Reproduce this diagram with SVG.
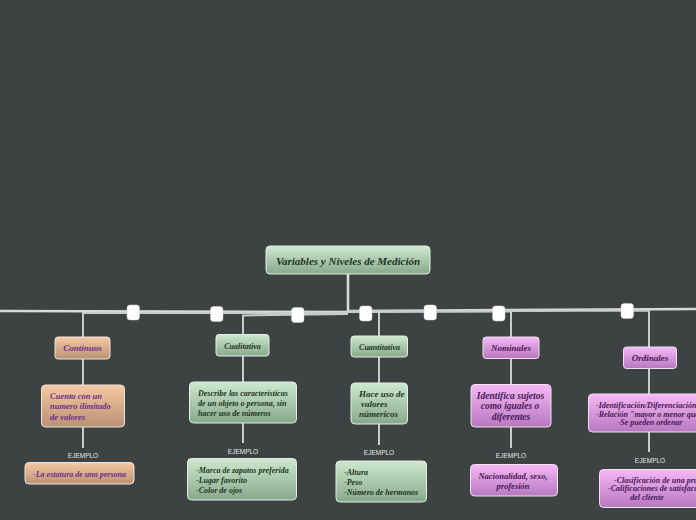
<svg xmlns="http://www.w3.org/2000/svg" width="696" height="520" viewBox="0 0 696 520">
<defs>
<linearGradient id="gGreen" x1="0" y1="0" x2="0" y2="1"><stop offset="0" stop-color="#cde9cf"/><stop offset="1" stop-color="#88a88b"/></linearGradient>
<linearGradient id="gPeach" x1="0" y1="0" x2="0" y2="1"><stop offset="0" stop-color="#f6c9a2"/><stop offset="1" stop-color="#b99174"/></linearGradient>
<linearGradient id="gPurple" x1="0" y1="0" x2="0" y2="1"><stop offset="0" stop-color="#f5b8f5"/><stop offset="1" stop-color="#b878bf"/></linearGradient>
<style>
.bg{fill:#3d4243}
.ln{fill:none;stroke:#c9cccc;stroke-width:2}
.ln2{fill:none;stroke:#d8dada;stroke-width:2.6}
.g rect{fill:url(#gGreen);stroke:#e4eee4;stroke-width:1}
.p rect{fill:url(#gPeach);stroke:#eee4dc;stroke-width:1}
.u rect{fill:url(#gPurple);stroke:#f0e0f0;stroke-width:1}
text{font-family:"Liberation Serif","Times New Roman",serif;font-weight:bold;font-style:italic;font-size:8.5px}
.g text{fill:#213523}
.p text{fill:#6b2f8a}
.u text{fill:#4a1858}
.c{text-anchor:middle}
.t{font-size:9px}
.s{font-size:8px}
.ej{font-family:"Liberation Sans",Arial,sans-serif;font-weight:normal;font-style:normal;font-size:6.5px;fill:#e6e6e6;text-anchor:middle}
.sq{fill:#ffffff;stroke:#d0d0d0;stroke-width:0.5}
</style>
</defs>
<rect class="bg" x="0" y="0" width="696" height="520"/>

<g id="connectors">
<path class="ln2" d="M348,274 L348,312"/>
<path class="ln2" d="M348,312 L0,311"/>
<path class="ln" d="M348,313 L83,313 L83,337"/>
<path class="ln" d="M348,314 L243,315.5 L243,334"/>
<path class="ln2" d="M348,311 L696,309"/>
<path class="ln" d="M348,312 L379,312 L379,336"/>
<path class="ln" d="M348,312 L511,311.5 L511,337"/>
<path class="ln" d="M348,311.5 L649,310.5 L649,347"/>
<path class="ln" d="M83,359 L83,385"/>
<path class="ln" d="M83,427 L83,448"/>
<path class="ln" d="M243,356 L243,382"/>
<path class="ln" d="M243,423 L243,443"/>
<path class="ln" d="M379,357 L379,383"/>
<path class="ln" d="M379,424 L379,445"/>
<path class="ln" d="M511,358 L511,384"/>
<path class="ln" d="M511,427 L511,448"/>
<path class="ln" d="M649,368 L649,394"/>
<path class="ln" d="M649,432 L649,452"/>
<rect class="sq" x="127" y="305" width="12.5" height="15" rx="3"/>
<rect class="sq" x="210.5" y="306.5" width="12.5" height="15" rx="3"/>
<rect class="sq" x="291.5" y="307.5" width="12.5" height="15" rx="3"/>
<rect class="sq" x="359.5" y="306" width="12.5" height="15" rx="3"/>
<rect class="sq" x="424" y="305" width="12.5" height="15" rx="3"/>
<rect class="sq" x="492.5" y="306" width="12.5" height="15" rx="3"/>
<rect class="sq" x="621" y="303.5" width="12.5" height="15" rx="3"/>
</g>

<g id="root" class="g">
<rect x="266" y="246" width="164" height="28" rx="4"/>
<text class="c" x="348" y="264.5" style="font-size:11px">Variables y Niveles de Medición</text>
</g>

<g id="continuos" class="p">
<rect x="55" y="337" width="55" height="22" rx="3"/>
<text class="c t" x="82.5" y="351">Continuos</text>
</g>
<g id="continuos-desc" class="p">
<rect x="41.5" y="385" width="83" height="42" rx="4"/>
<text x="50" y="398.5">Cuenta con un</text>
<text x="50" y="409">numero ilimitado</text>
<text x="50" y="419.5">de valores</text>
</g>
<text id="ej1" class="ej" x="83" y="458">EJEMPLO</text>
<g id="continuos-ej" class="p">
<rect x="25" y="462.5" width="109" height="21.5" rx="4"/>
<text class="c s" x="79.5" y="476.5">-La estatura de una persona</text>
</g>

<g id="cualitativa" class="g">
<rect x="216" y="334.5" width="53" height="21.5" rx="3"/>
<text class="c s" x="242.5" y="348.5">Cualitativa</text>
</g>
<g id="cualitativa-desc" class="g">
<rect x="189.5" y="382" width="107" height="41" rx="4"/>
<text class="s" x="198" y="396">Describe las caracteristicas</text>
<text class="s" x="198" y="406">de un objeto o persona, sin</text>
<text class="s" x="198" y="416">hacer uso de números</text>
</g>
<text id="ej2" class="ej" x="243" y="454">EJEMPLO</text>
<g id="cualitativa-ej" class="g">
<rect x="187.5" y="458.5" width="109" height="41.5" rx="4"/>
<text class="s" x="196" y="473">-Marca de zapatos preferida</text>
<text class="s" x="196" y="483">-Lugar favorito</text>
<text class="s" x="196" y="493">-Color de ojos</text>
</g>

<g id="cuantitativa" class="g">
<rect x="351" y="336" width="56.5" height="21" rx="3"/>
<text class="c s" x="379.5" y="349.5">Cuantitativa</text>
</g>
<g id="cuantitativa-desc" class="g">
<rect x="351" y="383" width="56.5" height="41" rx="4"/>
<text x="359" y="397" style="font-size:9px">Hace uso de</text>
<text x="361" y="407" style="font-size:9px">valores</text>
<text x="359" y="417" style="font-size:9px">númericos</text>
</g>
<text id="ej3" class="ej" x="379" y="455">EJEMPLO</text>
<g id="cuantitativa-ej" class="g">
<rect x="336" y="461" width="90.5" height="41" rx="4"/>
<text class="s" x="344" y="475">-Altura</text>
<text class="s" x="344" y="485">-Peso</text>
<text class="s" x="344" y="495">-Número de hermanos</text>
</g>

<g id="nominales" class="u">
<rect x="483" y="337" width="56" height="21.5" rx="3"/>
<text class="c t" x="511" y="351">Nominales</text>
</g>
<g id="nominales-desc" class="u">
<rect x="471" y="384.5" width="80" height="42.5" rx="4"/>
<text class="c" x="510.5" y="398.5" style="font-size:9.5px">Identifica sujetos</text>
<text class="c" x="510" y="409" style="font-size:9.5px">como iguales o</text>
<text class="c" x="511" y="419.5" style="font-size:9.5px">diferentes</text>
</g>
<text id="ej4" class="ej" x="511" y="458">EJEMPLO</text>
<g id="nominales-ej" class="u">
<rect x="470.5" y="464.5" width="87" height="31.5" rx="4"/>
<text class="c" x="513" y="478.5">Nacionalidad, sexo,</text>
<text class="c" x="513" y="489">profesión</text>
</g>

<g id="ordinales" class="u">
<rect x="623.5" y="347" width="53" height="21.5" rx="3"/>
<text class="c t" x="650" y="360.5">Ordinales</text>
</g>
<g id="ordinales-desc" class="u">
<rect x="588.5" y="394" width="124" height="38" rx="4"/>
<text class="s" x="596" y="407.5">-Identificación/Diferenciación</text>
<text class="s" x="596" y="416.5">-Relación "mayor o menor que"</text>
<text class="c s" x="650" y="425">-Se pueden ordenar</text>
</g>
<text id="ej5" class="ej" x="650" y="463">EJEMPLO</text>
<g id="ordinales-ej" class="u">
<rect x="599.5" y="469.5" width="104" height="38" rx="4"/>
<text class="s" x="614" y="482.5">-Clasificación de una prueba</text>
<text class="s" x="608" y="491">-Calificaciones de satisfacción</text>
<text class="c s" x="647" y="500">del cliente</text>
</g>
</svg>
